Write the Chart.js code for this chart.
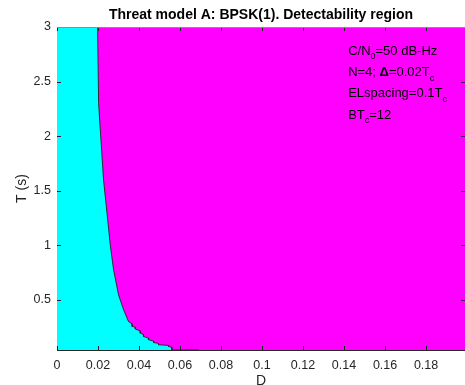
<!DOCTYPE html>
<html><head><meta charset="utf-8">
<script src="https://cdn.jsdelivr.net/npm/chart.js@4.4.0/dist/chart.umd.min.js"></script>
<style>html,body{margin:0;padding:0;background:#fff;overflow:hidden}</style>
</head><body>
<canvas id="c" width="465" height="385"></canvas>
<script>
// ---- data ----
const boundaryD = [0, 0.0198, 0.0203, 0.0227, 0.0244, 0.0260, 0.0276, 0.0300, 0.0325, 0.0349, 0.0366, 0.0366, 0.0382, 0.0382, 0.0406, 0.0406, 0.0422, 0.0422, 0.0446, 0.0446, 0.0471, 0.0471, 0.0495, 0.0495, 0.0544, 0.0544, 0.0560, 0.0560, 0.0690];
const boundaryT = [3.0, 3.0, 2.30, 1.60, 1.294, 1.0, 0.775, 0.546, 0.408, 0.300, 0.280, 0.256, 0.250, 0.232, 0.215, 0.195, 0.180, 0.164, 0.150, 0.134, 0.122, 0.109, 0.100, 0.088, 0.082, 0.072, 0.066, 0.040, 0.040];
const xTickValues = [0, 0.02, 0.04, 0.06, 0.08, 0.1, 0.12, 0.14, 0.16, 0.18];
const xTickLabels = ['0', '0.02', '0.04', '0.06', '0.08', '0.1', '0.12', '0.14', '0.16', '0.18'];
const yTickValues = [0.5, 1, 1.5, 2, 2.5, 3];
const yTickLabels = ['0.5', '1', '1.5', '2', '2.5', '3'];
const xRange = [0, 0.199];
const yRange = [0.04, 3];
const titleText = 'Threat model A: BPSK(1). Detectability region';
const xLabel = 'D';
const yLabel = 'T (s)';
const annotationAnchor = [0.142, 2.745];
const annotationLines = [
  [['C/N', ''], ['0', 'sub'], ['=50 dB-Hz', '']],
  [['N=4; ', ''], ['\u0394', 'bold'], ['=0.02T', ''], ['c', 'sub']],
  [['ELspacing=0.1T', ''], ['c', 'sub']],
  [['BT', ''], ['c', 'sub'], ['=12', '']]
];

const FONT = '"Liberation Sans", Arial, Helvetica, sans-serif';
const AXC = '#262626';

const bgPlugin = {
  id: 'bg',
  beforeDatasetsDraw(chart) {
    const {ctx, chartArea: a} = chart;
    ctx.save();
    ctx.fillStyle = '#ff00ff';
    ctx.fillRect(a.left, a.top, a.right - a.left, a.bottom - a.top);
    ctx.restore();
  }
};

const decoPlugin = {
  id: 'deco',
  afterDraw(chart) {
    const {ctx, chartArea: a, scales: {x, y}} = chart;
    ctx.save();
    ctx.lineWidth = 1;
    ctx.strokeStyle = AXC;
    const L = 4;
    x.ticks.forEach(t => {
      const p = Math.round(x.getPixelForValue(t.value)) + 0.5;
      ctx.beginPath();
      ctx.moveTo(p, a.bottom); ctx.lineTo(p, a.bottom - L);
      ctx.moveTo(p, a.top); ctx.lineTo(p, a.top + L);
      ctx.stroke();
    });
    y.ticks.forEach(t => {
      const p = Math.round(y.getPixelForValue(t.value)) + 0.5;
      ctx.beginPath();
      ctx.moveTo(a.left, p); ctx.lineTo(a.left + L, p);
      ctx.moveTo(a.right, p); ctx.lineTo(a.right - L, p);
      ctx.stroke();
    });
    ctx.strokeStyle = '#8c8c8c';
    ctx.beginPath();
    ctx.moveTo(a.left, Math.round(a.top) + 0.5); ctx.lineTo(a.right, Math.round(a.top) + 0.5);
    ctx.stroke();
    // annotation text
    ctx.fillStyle = '#000';
    ctx.textBaseline = 'alphabetic';
    ctx.textAlign = 'left';
    const ax = x.getPixelForValue(annotationAnchor[0]);
    const ay = y.getPixelForValue(annotationAnchor[1]);
    annotationLines.forEach((parts, i) => {
      let xx = ax;
      const base = ay + i * 21.3;
      parts.forEach(([txt, style]) => {
        const size = style === 'sub' ? 9 : 13;
        ctx.font = (style === 'bold' ? 'bold ' : '') + size + 'px ' + FONT;
        ctx.fillText(txt, xx, base + (style === 'sub' ? 4.5 : 0));
        xx += ctx.measureText(txt).width;
      });
    });
    ctx.restore();
  }
};

const regionPts = boundaryD.map((d, i) => ({x: d, y: boundaryT[i]}));
const edgePts = regionPts.slice(1);

new Chart(document.getElementById('c'), {
  type: 'line',
  data: {
    datasets: [{
      data: edgePts,
      parsing: false,
      fill: false,
      borderColor: '#222222',
      borderWidth: 0.9,
      pointRadius: 0,
      tension: 0
    }, {
      data: regionPts,
      parsing: false,
      fill: 'start',
      backgroundColor: '#00ffff',
      borderColor: 'rgba(0,0,0,0)',
      borderWidth: 0,
      pointRadius: 0,
      tension: 0
    }]
  },
  options: {
    responsive: false,
    devicePixelRatio: 1,
    animation: false,
    layout: {padding: 0},
    plugins: {
      legend: {display: false},
      tooltip: {enabled: false},
      title: {
        display: true,
        text: titleText,
        fullSize: false,
        color: '#000',
        font: {family: FONT, size: 14, weight: 'bold', lineHeight: 1.2},
        padding: {top: 7, bottom: 3.2}
      }
    },
    scales: {
      x: {
        type: 'linear',
        min: xRange[0], max: xRange[1],
        afterBuildTicks: s => { s.ticks = xTickValues.map(v => ({value: v})); },
        afterFit: s => { s.height = 35; },
        ticks: {
          callback: (v, i) => xTickLabels[i],
          font: {family: FONT, size: 12.5},
          color: AXC,
          padding: 8,
          maxRotation: 0,
          autoSkip: false
        },
        grid: {drawOnChartArea: false, drawTicks: false},
        border: {display: true, color: AXC, width: 1},
        title: {
          display: true, text: xLabel, color: AXC,
          font: {family: FONT, size: 14, lineHeight: 0.5},
          padding: 0
        }
      },
      y: {
        type: 'linear',
        min: yRange[0], max: yRange[1],
        afterBuildTicks: s => { s.ticks = yTickValues.map(v => ({value: v})); },
        afterFit: s => { s.width = 57; },
        ticks: {
          callback: (v, i) => yTickLabels[i],
          font: {family: FONT, size: 12.5},
          color: AXC,
          padding: 6,
          autoSkip: false
        },
        grid: {drawOnChartArea: false, drawTicks: false},
        border: {display: true, color: AXC, width: 1},
        title: {
          display: true, text: yLabel, color: AXC,
          font: {family: FONT, size: 14, lineHeight: 1.2},
          padding: {top: 13.3, bottom: 0}
        }
      }
    }
  },
  plugins: [bgPlugin, decoPlugin]
});
</script>
</body></html>
